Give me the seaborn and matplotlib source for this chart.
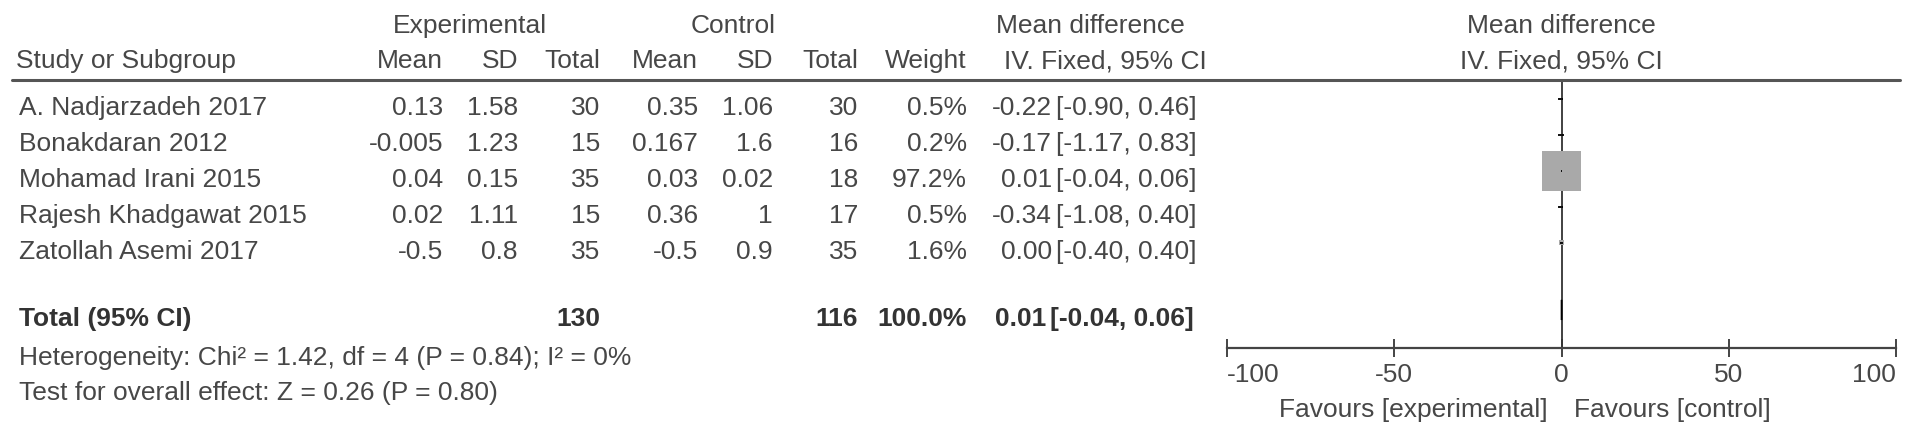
import numpy as np
import pandas as pd
import matplotlib
matplotlib.use("Agg")
import matplotlib.pyplot as plt
import matplotlib.transforms as mtransforms
from matplotlib.lines import Line2D
import seaborn as sns

# ---------------- data ----------------
studies = ["A. Nadjarzadeh 2017", "Bonakdaran 2012", "Mohamad Irani 2015",
           "Rajesh Khadgawat 2015", "Zatollah Asemi 2017"]
exp_mean = [0.13, -0.005, 0.04, 0.02, -0.5]
exp_sd = [1.58, 1.23, 0.15, 1.11, 0.8]
exp_total = [30, 15, 35, 15, 35]
ctrl_mean = [0.35, 0.167, 0.03, 0.36, -0.5]
ctrl_sd = [1.06, 1.6, 0.02, 1, 0.9]
ctrl_total = [30, 16, 18, 17, 35]
weight = [0.5, 0.2, 97.2, 0.5, 1.6]
md = [-0.22, -0.17, 0.01, -0.34, 0.00]
ci_lo = [-0.90, -1.17, -0.04, -1.08, -0.40]
ci_hi = [0.46, 0.83, 0.06, 0.40, 0.40]

total_label = "Total (95% CI)"
total_exp = 130
total_ctrl = 116
total_weight = 100.0
total_md = 0.01
total_lo = -0.04
total_hi = 0.06

heterogeneity = "Heterogeneity: Chi² = 1.42, df = 4 (P = 0.84); I² = 0%"
overall = "Test for overall effect: Z = 0.26 (P = 0.80)"
xticks = [-100, -50, 0, 50, 100]
favours_left = "Favours [experimental]"
favours_right = "Favours [control]"

# ---------------- style ----------------
sns.set_theme(style="white")
plt.rcParams["font.family"] = ["Liberation Sans", "DejaVu Sans"]
TXT = "#474747"
BOLD = "#333333"
FS = 19

W, H = 1913, 433
fig = plt.figure(figsize=(W / 100, H / 100), dpi=100)
fig.patch.set_facecolor("white")

# forest axes: x -100..100 spans px 1227..1896, y spans header line (80) to axis (348)
ax = fig.add_axes([1227 / W, 1 - 348 / H, 669 / W, 268 / H])
ax.set_facecolor("white")

rows = np.arange(len(studies), dtype=float)
total_row = 5.86
ax.set_xlim(-100, 100)
ax.set_ylim(6.917, -0.528)

df = pd.DataFrame({"md": md, "row": rows, "weight": weight})
side_pt = 28.1 * np.sqrt(df["weight"] / max(weight))
ax.axvline(0, color="#333333", lw=1.3, zorder=2)
ax.hlines(rows, ci_lo, ci_hi, color="black", lw=1.3, zorder=4)
sns.scatterplot(data=df, x="md", y="row", s=side_pt ** 2, marker="s",
                color="#a9a9a9", linewidth=0, legend=False, ax=ax, zorder=3)
ax.fill([total_lo, total_md, total_hi, total_md],
        [total_row, total_row - 0.28, total_row, total_row + 0.28],
        facecolor="black", edgecolor="black", lw=1.0, zorder=4)

ax.set_xlabel("")
ax.set_ylabel("")
ax.set_yticks([])
ax.set_xticks(xticks)
ax.set_xticklabels([f"{v:g}" for v in xticks])
for sp in ["top", "left", "right"]:
    ax.spines[sp].set_visible(False)
ax.spines["bottom"].set_color("#444444")
ax.spines["bottom"].set_linewidth(1.6)
ax.tick_params(axis="x", direction="inout", length=13, width=1.4, color="#444444",
               labelsize=FS, labelcolor=TXT, pad=4.5, bottom=True)
labs = ax.get_xticklabels()
labs[0].set_ha("left")
labs[-1].set_ha("right")

# header rule
fig.add_artist(Line2D([12 / W, 1900 / W], [1 - 80 / H] * 2, color="#555555", lw=2.2))


def ftext(xpx, ypx, s, ha="left", bold=False):
    fig.text(xpx / W, 1 - ypx / H, s, ha=ha, va="baseline", fontsize=FS,
             color=BOLD if bold else TXT, fontweight="bold" if bold else "normal")


# headers
ftext(470, 33, "Experimental", ha="center")
ftext(733, 33, "Control", ha="center")
ftext(1090, 33, "Mean difference", ha="center")
ftext(16, 68, "Study or Subgroup")
for xr, lab in [(443, "Mean"), (518, "SD"), (600, "Total"), (698, "Mean"),
                (773, "SD"), (858, "Total"), (967, "Weight")]:
    ftext(xr, 68, lab, ha="right")
ftext(1105, 68, "IV. Fixed, 95% CI", ha="center")

fcol = mtransforms.blended_transform_factory(ax.transData, fig.transFigure)
ax.text(0, 1 - 33 / H, "Mean difference", transform=fcol, ha="center", va="baseline",
        fontsize=FS, color=TXT)
ax.text(0, 1 - 68 / H, "IV. Fixed, 95% CI", transform=fcol, ha="center", va="baseline",
        fontsize=FS, color=TXT)

# study rows
row_tr = mtransforms.blended_transform_factory(fig.transFigure, ax.transData) + \
    mtransforms.ScaledTranslation(0, -0.16, fig.dpi_scale_trans)


def rtext(xpx, r, s, ha="left", bold=False):
    fig.text(xpx / W, r, s, transform=row_tr, ha=ha, va="baseline", fontsize=FS,
             color=BOLD if bold else TXT, fontweight="bold" if bold else "normal")


for i, r in enumerate(rows):
    rtext(19, r, studies[i])
    rtext(443, r, f"{exp_mean[i]:g}", ha="right")
    rtext(518, r, f"{exp_sd[i]:g}", ha="right")
    rtext(600, r, f"{exp_total[i]}", ha="right")
    rtext(698, r, f"{ctrl_mean[i]:g}", ha="right")
    rtext(773, r, f"{ctrl_sd[i]:g}", ha="right")
    rtext(858, r, f"{ctrl_total[i]}", ha="right")
    rtext(967, r, f"{weight[i]:.1f}%", ha="right")
    rtext(1052, r, f"{md[i]:.2f}", ha="right")
    rtext(1056, r, f"[{ci_lo[i]:.2f}, {ci_hi[i]:.2f}]")

# total row
rtext(19, total_row, total_label, bold=True)
rtext(600, total_row, f"{total_exp}", ha="right", bold=True)
rtext(858, total_row, f"{total_ctrl}", ha="right", bold=True)
rtext(967, total_row, f"{total_weight:.1f}%", ha="right", bold=True)
rtext(1046, total_row, f"{total_md:.2f}", ha="right", bold=True)
rtext(1050, total_row, f"[{total_lo:.2f}, {total_hi:.2f}]", bold=True)

# footers
ftext(19, 365, heterogeneity)
ftext(19, 400, overall)

fav_l = fcol + mtransforms.ScaledTranslation(-0.14, 0, fig.dpi_scale_trans)
fav_r = fcol + mtransforms.ScaledTranslation(0.12, 0, fig.dpi_scale_trans)
ax.text(0, 1 - 417 / H, favours_left, transform=fav_l, ha="right", va="baseline",
        fontsize=FS, color=TXT)
ax.text(0, 1 - 417 / H, favours_right, transform=fav_r, ha="left", va="baseline",
        fontsize=FS, color=TXT)

fig.savefig("out.png", dpi=100, facecolor="white")
